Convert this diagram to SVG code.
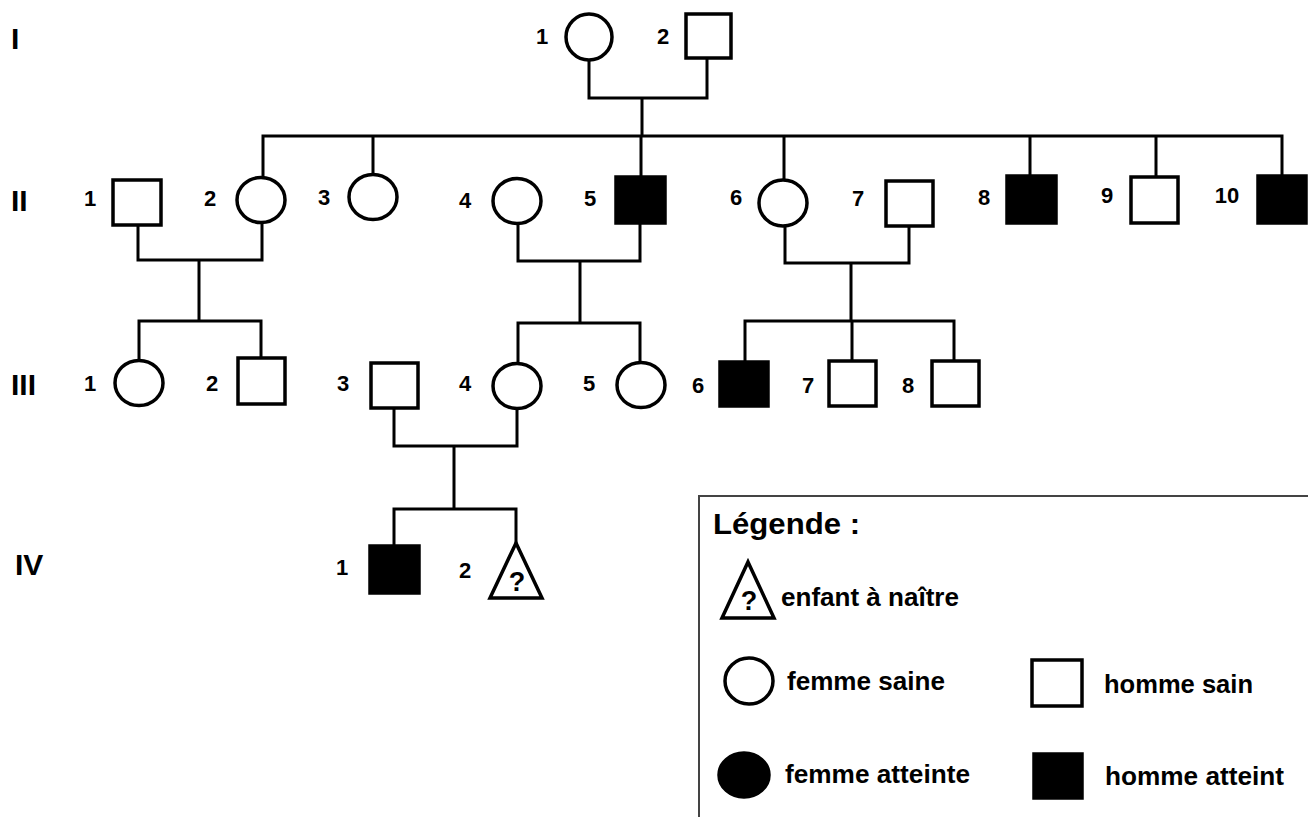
<svg xmlns="http://www.w3.org/2000/svg" width="1308" height="817" viewBox="0 0 1308 817">
<style>
.s{fill:#fff;stroke:#000;stroke-width:3.5}
.a{fill:#000;stroke:#000;stroke-width:3.5}
.ln{fill:none;stroke:#000;stroke-width:3;stroke-linejoin:miter;stroke-linecap:square}
.n{font-family:"Liberation Sans",Arial,sans-serif;font-weight:bold;font-size:22px;fill:#000;text-anchor:middle}
.g{font-family:"Liberation Sans",Arial,sans-serif;font-weight:bold;font-size:30px;fill:#000}
.l{font-family:"Liberation Sans",Arial,sans-serif;font-weight:bold;font-size:26px;fill:#000}
.q{font-family:"Liberation Sans",Arial,sans-serif;font-weight:bold;font-size:27px;fill:#000;text-anchor:middle}
</style>
<rect width="1308" height="817" fill="#fff"/>
<g id="generations">
<text class="g" x="11" y="49">I</text>
<text class="g" x="11" y="211">II</text>
<text class="g" x="11" y="395">III</text>
<text class="g" x="15" y="575">IV</text>
</g>
<g id="connectors">
<path class="ln" d="M589 60 V98 H707 V58 M642 98 V136 M263 178 V136 H1282 V176 M373 175 V136 M641 136 V177 M784 136 V180 M1030 136 V176 M1156 136 V177"/>
<path class="ln" d="M138 225 V260 H262 V223 M199 260 V321 M139 360 V321 H261 V358"/>
<path class="ln" d="M518 223 V261 H640 V223 M580 261 V323 M518 363 V323 H640 V362"/>
<path class="ln" d="M785 226 V263 H909 V226 M851 263 V321 M745 362 V321 H954 V361 M852 321 V361"/>
<path class="ln" d="M394 408 V446 H517 V408 M454 446 V509 M394 546 V509 H516 V543"/>
</g>
<g id="I-1"><ellipse class="s" cx="589" cy="37" rx="23" ry="23"/><text class="n" x="542" y="44">1</text></g>
<g id="I-2"><rect class="s" x="686" y="14" width="45" height="44"/><text class="n" x="663" y="44">2</text></g>
<g id="II-1"><rect class="s" x="113" y="180" width="48" height="45"/><text class="n" x="90" y="206">1</text></g>
<g id="II-2"><ellipse class="s" cx="261" cy="200" rx="24" ry="22.5"/><text class="n" x="210" y="206">2</text></g>
<g id="II-3"><ellipse class="s" cx="373" cy="197" rx="24" ry="22.5"/><text class="n" x="324" y="205">3</text></g>
<g id="II-4"><ellipse class="s" cx="517" cy="201" rx="24" ry="22.5"/><text class="n" x="465" y="208">4</text></g>
<g id="II-5"><rect class="a" x="616" y="177" width="49" height="46"/><text class="n" x="590" y="206">5</text></g>
<g id="II-6"><ellipse class="s" cx="783" cy="203" rx="24" ry="23"/><text class="n" x="736" y="205">6</text></g>
<g id="II-7"><rect class="s" x="886" y="181" width="47" height="45"/><text class="n" x="858" y="206">7</text></g>
<g id="II-8"><rect class="a" x="1007" y="176" width="49" height="47"/><text class="n" x="984" y="205">8</text></g>
<g id="II-9"><rect class="s" x="1131" y="177" width="47" height="46"/><text class="n" x="1107" y="203">9</text></g>
<g id="II-10"><rect class="a" x="1258" y="176" width="48" height="47"/><text class="n" x="1227" y="203">10</text></g>
<g id="III-1"><ellipse class="s" cx="139" cy="383" rx="24" ry="22.5"/><text class="n" x="90" y="391">1</text></g>
<g id="III-2"><rect class="s" x="238" y="358" width="47" height="46"/><text class="n" x="212" y="391">2</text></g>
<g id="III-3"><rect class="s" x="371" y="363" width="47" height="45"/><text class="n" x="343" y="391">3</text></g>
<g id="III-4"><ellipse class="s" cx="517" cy="386" rx="24" ry="22.5"/><text class="n" x="465" y="391">4</text></g>
<g id="III-5"><ellipse class="s" cx="641" cy="385" rx="24" ry="22.5"/><text class="n" x="589" y="391">5</text></g>
<g id="III-6"><rect class="a" x="720" y="362" width="48" height="44"/><text class="n" x="698" y="393">6</text></g>
<g id="III-7"><rect class="s" x="829" y="361" width="47" height="45"/><text class="n" x="808" y="393">7</text></g>
<g id="III-8"><rect class="s" x="932" y="361" width="47" height="45"/><text class="n" x="908" y="393">8</text></g>
<g id="IV-1"><rect class="a" x="370" y="546" width="49" height="47"/><text class="n" x="342" y="575">1</text></g>
<g id="IV-2"><polygon class="s" points="516,543 542,598 490,598"/><text class="q" x="517" y="591">?</text><text class="n" x="465" y="578">2</text></g>
<g id="legend">
<path fill="none" stroke="#444" stroke-width="2" d="M1308 496 H699 V817"/>
<text class="g" x="713" y="534" font-size="29" textLength="147" lengthAdjust="spacingAndGlyphs">Légende :</text>
<polygon class="s" stroke-width="4" points="748,562 774,618 722,618"/><text class="q" x="749" y="610">?</text>
<text class="l" x="781" y="606" textLength="178" lengthAdjust="spacingAndGlyphs">enfant à naître</text>
<ellipse class="s" cx="749" cy="681" rx="24" ry="23"/>
<text class="l" x="787" y="690" textLength="158" lengthAdjust="spacingAndGlyphs">femme saine</text>
<rect class="s" x="1032" y="660" width="50" height="46"/>
<text class="l" x="1104" y="693" textLength="149" lengthAdjust="spacingAndGlyphs">homme sain</text>
<ellipse class="a" cx="744" cy="775" rx="25" ry="22"/>
<text class="l" x="785" y="783" textLength="185" lengthAdjust="spacingAndGlyphs">femme atteinte</text>
<rect class="a" x="1034" y="754" width="48" height="44"/>
<text class="l" x="1105" y="785" textLength="179" lengthAdjust="spacingAndGlyphs">homme atteint</text>
</g>
</svg>
